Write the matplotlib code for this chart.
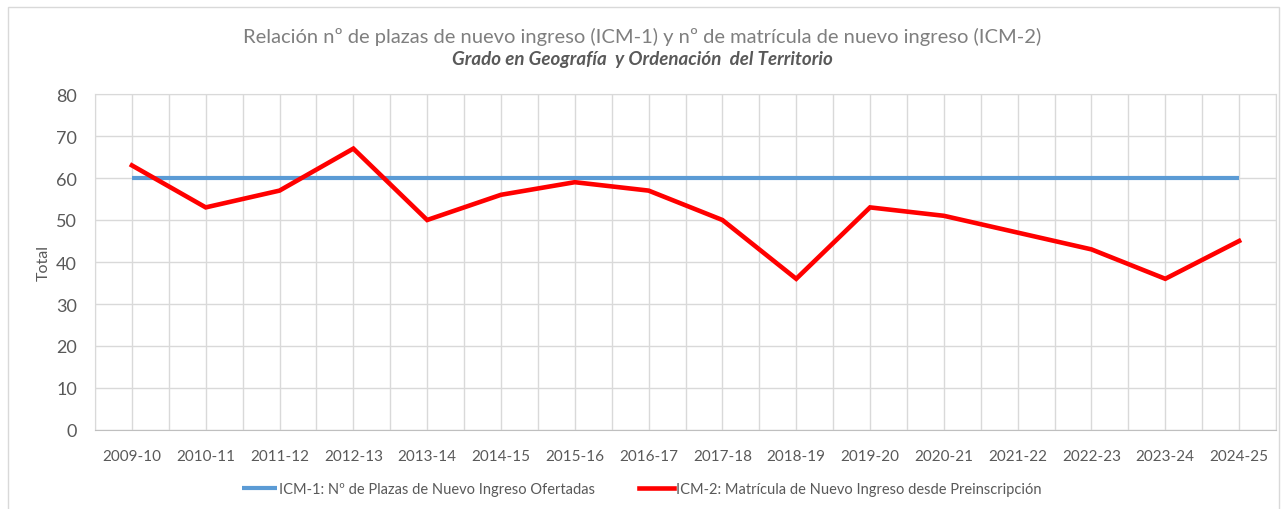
import numpy as np
import matplotlib.pyplot as plt
from matplotlib.patches import Rectangle

plt.rcParams['font.family'] = ['Lato', 'DejaVu Sans']

cursos = ['2009-10', '2010-11', '2011-12', '2012-13', '2013-14', '2014-15',
          '2015-16', '2016-17', '2017-18', '2018-19', '2019-20', '2020-21',
          '2021-22', '2022-23', '2023-24', '2024-25']
plazas = [60, 60, 60, 60, 60, 60, 60, 60, 60, 60, 60, 60, 60, 60, 60, 60]
matricula = [63, 53, 57, 67, 50, 56, 59, 57, 50, 36, 53, 51, 47, 43, 36, 45]

label_icm1 = 'ICM-1: Nº de Plazas de Nuevo Ingreso Ofertadas'
label_icm2 = 'ICM-2: Matrícula de Nuevo Ingreso desde Preinscripción'

texto = '#595959'
rejilla = '#d9d9d9'

fig = plt.figure(figsize=(12.84, 5.10), dpi=100)
ax = fig.add_axes([95 / 1284, 1 - 431 / 510, (1276 - 95) / 1284, (431 - 95) / 510])

# marco exterior del grafico
fig.patches.append(Rectangle((8 / 1284, -0.01), (1279 - 8) / 1284, 1 - 8 / 510 + 0.01,
                             transform=fig.transFigure, fill=False,
                             edgecolor='#d9d9d9', linewidth=1.0))

x = np.arange(len(cursos))
ax.plot(x, plazas, color='#5b9bd5', linewidth=3, solid_capstyle='butt', label=label_icm1, zorder=3)
ax.plot(x, matricula, color='#ff0000', linewidth=3.3, solid_joinstyle='miter', label=label_icm2, zorder=4)

ax.set_xlim(-0.5, len(cursos) - 0.5)
ax.set_ylim(0, 80)
ax.set_yticks(np.arange(0, 81, 10))
ax.set_xticks(x)
ax.set_xticklabels(cursos)
ax.set_xticks(np.arange(-0.5, len(cursos), 1), minor=True)

ax.grid(True, axis='y', color=rejilla, linewidth=1)
ax.grid(True, axis='x', which='both', color=rejilla, linewidth=1)
ax.set_axisbelow(True)

for s in ['top', 'right', 'left']:
    ax.spines[s].set_color(rejilla)
ax.spines['bottom'].set_color('#bfbfbf')

ax.tick_params(axis='both', which='both', length=0)
ax.tick_params(axis='y', labelsize=13, labelcolor=texto, pad=13)
ax.tick_params(axis='x', labelsize=11, labelcolor=texto, pad=14)

ax.set_ylabel('Total', fontsize=11.5, color=texto, labelpad=4)

fig.text(0.5, 1 - 37 / 510, 'Relación nº de plazas de nuevo ingreso (ICM-1) y nº de matrícula de nuevo ingreso (ICM-2)',
         ha='center', va='center', fontsize=14.5, color='#7f7f7f')
fig.text(0.5, 1 - 60 / 510, 'Grado en Geografía  y Ordenación  del Territorio',
         ha='center', va='center', fontsize=13.5, color=texto, fontweight='bold', style='italic')

fig.legend(loc='center', bbox_to_anchor=(0.5, 1 - 490 / 510), ncol=2, frameon=False,
           fontsize=10.5, labelcolor=texto, handlelength=2.4, handletextpad=0.15,
           columnspacing=3.0)

fig.savefig('out.png', dpi=100)
